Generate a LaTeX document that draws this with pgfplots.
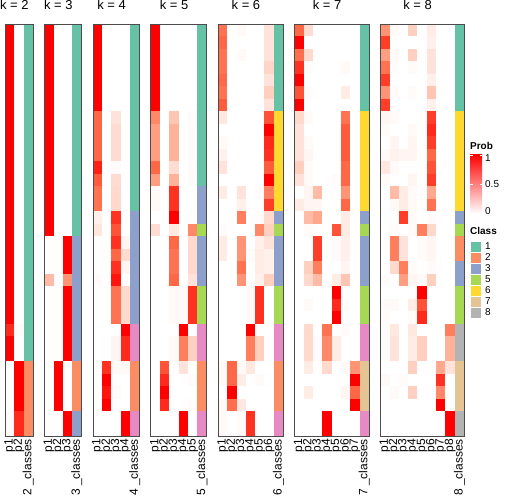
\documentclass[border=0pt]{standalone}
\usepackage{pgfplots}
\usepackage{pgfplotstable}
\pgfplotsset{compat=1.18}
\usepackage{fontspec}
\setmainfont{Liberation Sans}

\definecolor{cA}{RGB}{102,194,165}
\definecolor{cB}{RGB}{252,141,98}
\definecolor{cC}{RGB}{141,160,203}
\definecolor{cE}{RGB}{166,216,84}
\definecolor{cF}{RGB}{255,217,47}
\definecolor{cG}{RGB}{229,196,148}
\definecolor{cH}{RGB}{179,179,179}
\definecolor{pmid}{RGB}{255,158,129}

\pgfplotsset{
  colormap={probcls}{rgb255(0)=(255,255,255) rgb255(25)=(255,207,191) rgb255(50)=(255,158,129) rgb255(75)=(255,104,70) rgb255(100)=(255,0,0)
    rgb255(200)=(102,194,165) rgb255(300)=(252,141,98) rgb255(400)=(141,160,203) rgb255(500)=(231,138,195)
    rgb255(600)=(166,216,84) rgb255(700)=(255,217,47) rgb255(800)=(229,196,148) rgb255(900)=(179,179,179)},
}
\pgfdeclareplotmark{cell}{\pgfpathrectangle{\pgfpoint{-4.7bp}{-6.3bp}}{\pgfpoint{9.4bp}{12.6bp}}\pgfusepathqfill}

% columns: p1..pk = probabilities, cl = class
\pgfplotstableread{
p1 p2 cl
1 0 1
1 0 1
1 0 1
1 0 1
1 0 1
1 0 1
1 0 1
1 0 1
1 0 1
1 0 1
1 0 1
1 0 1
1 0 1
1 0 1
1 0 1
1 0 1
1 0 1
1 0 1
1 0 1
1 0 1
1 0 1
1 0 1
1 0 1
1 0 1
0.9 0.02 1
1 0 1
1 0 1
0 1 2
0 1 2
0 1 2
0 1 2
0.02 0.9 2
0.02 0.9 2
}\tTwo

\pgfplotstableread{
p1 p2 p3 cl
1 0 0 1
1 0 0 1
1 0 0 1
1 0 0 1
1 0 0 1
1 0 0 1
1 0 0 1
1 0 0 1
1 0 0 1
1 0 0 1
1 0 0 1
1 0 0 1
1 0 0 1
1 0 0 1
1 0 0 1
1 0 0 1
1 0 0 1
0 0 1 3
0 0 1 3
0 0 1 3
0.35 0 0.55 3
0 0 1 3
0 0 1 3
0 0 1 3
0 0 1 3
0 0 1 3
0 0 1 3
0 1 0 2
0 1 0 2
0 1 0 2
0 1 0 2
0 0 1 3
0 0 1 3
}\tThree

\pgfplotstableread{
p1 p2 p3 p4 cl
1 0 0 0 1
1 0 0 0 1
1 0 0 0 1
1 0 0 0 1
1 0 0 0 1
1 0 0 0 1
1 0 0 0 1
0.75 0 0.15 0 1
0.75 0 0.18 0 1
0.75 0 0.18 0 1
0.75 0 0.18 0 1
0.92 0 0.02 0 1
0.78 0 0.18 0 1
0.7 0 0.2 0 1
0.7 0 0.2 0 1
0.08 0 0.88 0 3
0.13 0 0.8 0 3
0 0 0.88 0.05 3
0 0 0.75 0.18 3
0 0 0.88 0.05 3
0.02 0 0.95 0 3
0 0 0.7 0.2 3
0 0 0.7 0.2 3
0 0 0.7 0.2 3
0 0 0 1 4
0 0 0.05 0.9 4
0 0 0.05 0.9 4
0 0.88 0.03 0.03 2
0 1 0 0 2
0 0.95 0.02 0 2
0 1 0 0 2
0 0 0 1 4
0 0 0 1 4
}\tFour

\pgfplotstableread{
p1 p2 p3 p4 p5 cl
1 0 0 0 0 1
1 0 0 0 0 1
1 0 0 0 0 1
1 0 0 0 0 1
1 0 0 0 0 1
1 0 0 0 0 1
1 0 0 0 0 1
0.6 0 0.3 0 0.02 1
0.5 0 0.4 0 0.02 1
0.5 0 0.4 0 0.02 1
0.5 0 0.4 0 0.02 1
0.75 0 0.18 0 0.02 1
0.5 0 0.4 0 0.02 1
0.03 0 0.88 0 0 3
0.03 0 0.88 0 0 3
0 0 1 0 0 3
0.18 0 0.12 0 0.6 5
0 0 0.75 0 0.2 3
0 0 0.7 0 0.2 3
0 0 0.7 0 0.2 3
0 0 0.75 0 0.15 3
0 0 0.03 0.03 0.88 5
0 0 0.03 0.03 0.88 5
0 0 0.03 0.03 0.88 5
0 0 0 1 0 4
0 0 0.03 0.65 0.25 4
0 0 0.03 0.65 0.25 4
0 0.8 0 0.15 0 2
0 0.9 0 0 0.02 2
0 1 0 0 0 2
0 0.9 0 0 0.02 2
0 0 0 1 0 4
0 0 0 1 0 4
}\tFive

\pgfplotstableread{
p1 p2 p3 p4 p5 p6 cl
0.7 0 0.03 0 0 0.15 1
0.75 0 0 0 0 0.15 1
0.7 0 0.03 0 0 0.15 1
0.7 0 0 0 0 0.22 1
0.75 0 0 0 0 0.15 1
0.7 0 0 0 0 0.25 1
0.78 0 0 0 0 0.15 1
0.12 0 0 0 0 0.8 6
0 0 0 0 0 1 6
0.03 0 0 0 0 0.9 6
0.07 0 0 0 0 0.88 6
0.15 0 0 0 0 0.78 6
0 0 0 0 0 1 6
0.1 0 0.15 0 0.02 0.65 6
0 0 0.08 0 0 0.85 6
0 0 0.65 0 0.02 0.2 3
0.02 0 0 0 0.6 0.25 5
0.1 0 0.55 0 0.08 0.15 3
0.1 0 0.55 0.02 0.1 0.08 3
0 0 0.7 0 0.1 0.08 3
0 0 0.55 0 0.08 0.25 3
0 0 0 0.03 0.88 0 5
0 0 0 0.03 0.88 0 5
0 0 0 0.03 0.88 0 5
0 0 0 1 0 0 4
0 0 0 0.65 0.25 0 4
0 0 0 0.65 0.25 0 4
0.03 0.75 0.03 0.12 0 0 2
0.03 0.75 0.1 0 0.03 0 2
0 1 0 0 0 0 2
0.03 0.72 0.12 0 0 0 2
0.03 0 0.02 0.88 0 0 4
0.03 0 0.02 0.88 0 0 4
}\tSix

\pgfplotstableread{
p1 p2 p3 p4 p5 p6 p7 cl
0.75 0.18 0 0 0 0 0 1
1 0 0 0 0 0 0 1
0.72 0.2 0 0 0 0 0 1
0.88 0.02 0 0 0 0.03 0 1
1 0 0 0 0 0 0 1
0.8 0.02 0 0 0 0.1 0 1
1 0 0 0 0 0 0 1
0.2 0.03 0 0 0 0.7 0 6
0.15 0 0 0 0 0.78 0 6
0.15 0.03 0 0 0 0.78 0 6
0.15 0.05 0 0 0 0.78 0 6
0.25 0.03 0 0 0 0.75 0 6
0.15 0.03 0 0 0.02 0.75 0 6
0 0.05 0.35 0 0 0.55 0 6
0.1 0.05 0.05 0 0 0.75 0 6
0 0.35 0.45 0 0 0.1 0 3
0 0.02 0 0 0.8 0.1 0 5
0 0 0.85 0 0.02 0.08 0 3
0 0 0.85 0 0.02 0.08 0 3
0 0.25 0.65 0 0 0.05 0 3
0 0.2 0.35 0 0.1 0.3 0 3
0 0 0 0 1 0 0 5
0 0.03 0 0 0.9 0.02 0 5
0 0 0 0 1 0 0 5
0 0.2 0 0.7 0 0.02 0 4
0 0.2 0.02 0.6 0.1 0 0 4
0 0.2 0.02 0.6 0.1 0 0 4
0 0.1 0 0.2 0 0.03 0.55 7
0 0 0 0 0 0 1 7
0 0.1 0 0 0 0.05 0.75 7
0 0 0 0 0 0 1 7
0 0 0 1 0 0 0 4
0 0 0 1 0 0 0 4
}\tSeven

\pgfplotstableread{
p1 p2 p3 p4 p5 p6 p7 p8 cl
0.55 0.03 0 0.25 0 0.1 0 0 1
0.85 0 0 0 0 0.08 0 0 1
0.5 0.03 0 0.25 0 0.15 0 0 1
0.7 0.02 0 0.02 0 0.15 0 0 1
0.85 0 0 0 0 0.08 0 0 1
0.55 0.02 0 0.02 0 0.3 0 0 1
0.85 0 0 0 0 0.08 0 0 1
0.05 0.03 0 0 0 0.85 0 0 6
0.02 0 0 0.03 0 0.9 0 0 6
0 0.05 0 0.05 0 0.85 0 0 6
0.03 0.07 0.05 0.05 0 0.75 0 0 6
0.12 0.03 0 0 0 0.8 0 0 6
0.02 0 0 0.05 0 0.85 0 0 6
0 0.35 0.1 0.03 0 0.45 0 0 6
0 0.03 0.1 0.03 0 0.7 0 0 6
0 0 0.85 0.03 0 0.02 0 0 3
0 0.02 0 0.02 0.65 0.2 0 0 5
0 0.65 0.15 0 0.02 0.05 0 0 2
0 0.65 0.15 0 0.02 0.05 0 0 2
0 0.2 0.65 0.02 0 0.02 0 0 3
0.02 0 0.5 0.05 0.03 0.25 0 0 3
0 0 0 0 1 0 0 0 5
0.03 0.03 0 0.1 0.8 0 0 0 5
0.02 0 0 0.02 0.9 0 0 0 5
0.02 0.12 0 0.12 0 0 0 0.65 8
0.02 0.15 0 0.1 0.25 0 0 0.4 8
0.02 0.15 0 0.1 0.25 0 0 0.4 8
0 0 0 0.25 0 0 0.45 0.15 7
0.03 0 0.02 0 0 0 0.88 0 7
0 0.03 0 0.25 0 0 0.6 0 7
0 0 0 0 0 0 1 0 7
0 0 0 0 0 0 0 1 8
0 0 0 0 0 0 0 1 8
}\tEight

\pgfplotsset{
  panel/.style={
    scale only axis, height=412bp,
    ymin=0.5, ymax=33.5, y dir=reverse, ytick=\empty,
    point meta min=0, point meta max=9,
    colormap name=probcls,
    axis line style={draw=none},
    major tick length=0pt,
    xticklabel style={rotate=90, anchor=east, inner sep=0pt, font=\fontsize{12}{12}\selectfont},
    xticklabel shift=3bp,
    title style={anchor=base, yshift=9bp, font=\fontsize{13}{13}\selectfont},
  },
  cellplot/.style={scatter, only marks, mark=cell, point meta=explicit,
    scatter/use mapped color={draw=none, fill=mapped color}},
}

% #1 K, #2 left x (bp), #3 table, #4 tick labels
\newcommand\panel[4]{%
  \pgfmathsetmacro\pw{9.3*(#1+1)}%
  \pgfmathsetmacro\xmx{#1+1.5}%
  \pgfmathtruncatemacro\nk{#1+1}%
  \pgfmathsetmacro\tx{#1/(2*(#1+1))}%
  \begin{axis}[panel, at={(#2bp,-24bp)}, anchor=north west, width=\pw bp,
    xmin=0.5, xmax=\xmx, xtick={1,...,\nk}, xticklabels={#4},
    title={k = #1}, title style={at={(\tx,1)}}]
    \pgfplotsinvokeforeach{1,...,#1}{%
      \addplot[cellplot] table[x expr=##1, y expr=\coordindex+1, meta=p##1] {#3};
    }
    \addplot[cellplot] table[x expr=\nk, y expr=\coordindex+1, meta expr=\thisrow{cl}+1] {#3};
  \end{axis}%
  \draw[black!70, line width=0.8bp] (#2,-24) rectangle ++(\pw,-412);
}

\begin{document}
\begin{tikzpicture}[x=1bp,y=1bp]
\useasboundingbox (0,0) rectangle (504,-504);
\panel{2}{5}{\tTwo}{p1,p2,2 \_classes}
\panel{3}{44.3}{\tThree}{p1,p2,p3,3 \_classes}
\panel{4}{92.9}{\tFour}{p1,p2,p3,p4,4 \_classes}
\panel{5}{150.8}{\tFive}{p1,p2,p3,p4,p5,5 \_classes}
\panel{6}{218}{\tSix}{p1,p2,p3,p4,p5,p6,6 \_classes}
\panel{7}{294.5}{\tSeven}{p1,p2,p3,p4,p5,p6,p7,7 \_classes}
\panel{8}{380.3}{\tEight}{p1,p2,p3,p4,p5,p6,p7,p8,8 \_classes}

% Prob legend
\node[anchor=west, inner sep=0pt, font=\bfseries\fontsize{10}{10}\selectfont] at (470,-146) {Prob};
\shade[top color=red, middle color=pmid, bottom color=white] (470,-154.5) rectangle (482,-213.5);
\draw[white, line width=0.6bp] (470,-184) -- (472.5,-184) (482,-184) -- (479.5,-184)
  (470,-155) -- (472.5,-155) (482,-155) -- (479.5,-155);
\begin{scope}[every node/.style={anchor=west, inner sep=0pt, font=\fontsize{10}{10}\selectfont}]
\node at (485,-158) {1};
\node at (485,-184) {0.5};
\node at (485,-211) {0};
\end{scope}

% Class legend
\node[anchor=west, inner sep=0pt, font=\bfseries\fontsize{10}{10}\selectfont] at (470,-231) {Class};
\foreach \c/\lab [count=\i from 0] in {cA/1,cB/2,cC/3,cE/5,cF/6,cG/7,cH/8}{
  \filldraw[fill=\c, draw=white, line width=0.6bp] (470,{-241-11*\i}) rectangle (481.5,{-252-11*\i});
  \node[anchor=west, inner sep=0pt, font=\fontsize{10}{10}\selectfont] at (485,{-246.5-11*\i}) {\lab};
}
\end{tikzpicture}
\end{document}
